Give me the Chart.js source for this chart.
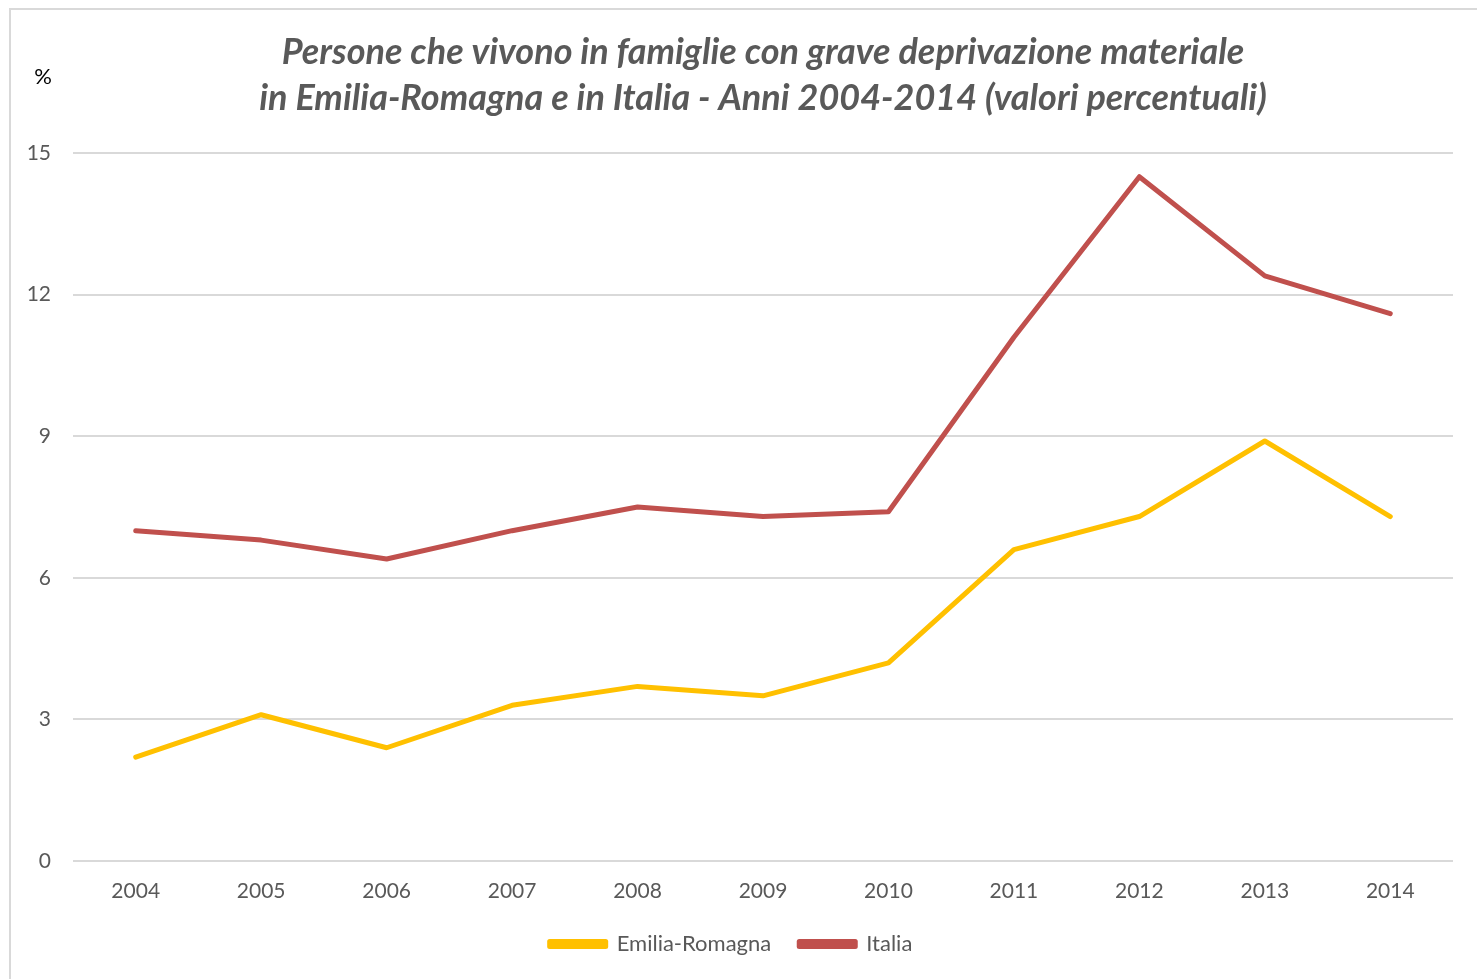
<!DOCTYPE html>
<html>
<head>
<meta charset="utf-8">
<script src="https://cdn.jsdelivr.net/npm/chart.js@4"></script>
<style>
  html, body { margin: 0; padding: 0; background: #fff; }
  #wrap { position: relative; width: 1477px; height: 979px; overflow: hidden; }
  #frame { position: absolute; left: 9px; top: 8px; width: 1600px; height: 1100px;
           border-left: 2px solid #d9d9d9; border-top: 2px solid #d9d9d9; }
  canvas { position: absolute; left: 0; top: 0; }
</style>
</head>
<body>
<div id="wrap">
  <div id="frame"></div>
  <canvas id="chart" width="1477" height="979"></canvas>
</div>
<script>
// data
const years = ["2004", "2005", "2006", "2007", "2008", "2009", "2010", "2011", "2012", "2013", "2014"];
const emiliaRomagna = [2.2, 3.1, 2.4, 3.3, 3.7, 3.5, 4.2, 6.6, 7.3, 8.9, 7.3];
const italia = [7.0, 6.8, 6.4, 7.0, 7.5, 7.3, 7.4, 11.1, 14.5, 12.4, 11.6];
const yTicks = [0, 3, 6, 9, 12, 15];

const FONT = "Lato, 'Open Sans', sans-serif";
const GREY = "#595959";

// little "%" label above the y axis
const percentLabel = {
    id: "percentLabel",
    afterDraw(chart) {
        const ctx = chart.ctx;
        ctx.save();
        ctx.font = "22px " + FONT;
        ctx.fillStyle = "#000";
        ctx.textAlign = "center";
        ctx.textBaseline = "middle";
        ctx.fillText("%", 43, 77);
        ctx.restore();
    }
};

new Chart(document.getElementById("chart").getContext("2d"), {
    type: "line",
    data: {
        labels: years,
        datasets: [
            { label: "Emilia-Romagna", data: emiliaRomagna, borderColor: "#FFC000", backgroundColor: "#FFC000" },
            { label: "Italia", data: italia, borderColor: "#C0504D", backgroundColor: "#C0504D" }
        ]
    },
    options: {
        responsive: false,
        animation: false,
        layout: { padding: { left: 9, right: 24, top: 8, bottom: 14 } },
        elements: {
            line: { borderWidth: 5, tension: 0, borderCapStyle: "round", borderJoinStyle: "round" },
            point: { radius: 0 }
        },
        plugins: {
            title: {
                display: true,
                fullSize: false,
                text: ["Persone che vivono in famiglie con grave deprivazione materiale",
                       "in Emilia-Romagna e in Italia - Anni 2004-2014 (valori percentuali)"],
                color: GREY,
                font: { family: FONT, size: 36, weight: "bold", style: "italic", lineHeight: 1.28 },
                padding: { top: 21, bottom: 32 }
            },
            legend: {
                position: "bottom",
                labels: {
                    color: GREY,
                    font: { family: FONT, size: 22 },
                    boxWidth: 56,
                    boxHeight: 5,
                    padding: 28
                }
            },
            tooltip: { enabled: false }
        },
        scales: {
            x: {
                offset: true,
                grid: { display: false, drawTicks: false },
                border: { display: false },
                ticks: { color: GREY, font: { family: FONT, size: 21 }, padding: 18, maxRotation: 0 },
                afterFit(scale) { scale.height = 44; }
            },
            y: {
                min: 0,
                max: 15,
                afterBuildTicks(scale) { scale.ticks = yTicks.map(v => ({ value: v })); },
                grid: { color: "#d9d9d9", lineWidth: 2, drawTicks: false },
                border: { display: false },
                ticks: { color: GREY, font: { family: FONT, size: 21 }, padding: 22 },
                afterFit(scale) { scale.width = 64; }
            }
        }
    },
    plugins: [percentLabel]
});
</script>
</body>
</html>
